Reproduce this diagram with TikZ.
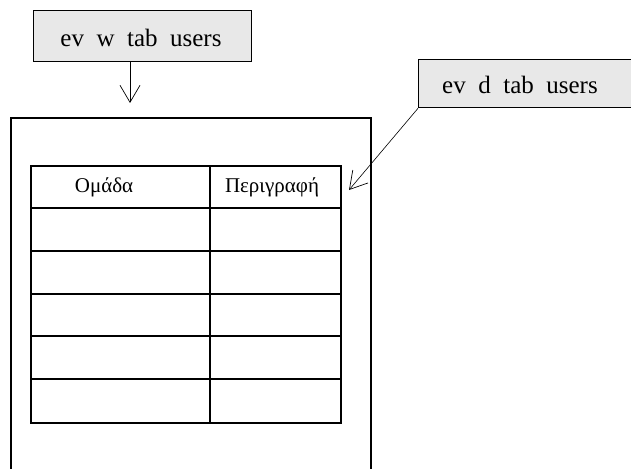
\documentclass[tikz,border=0pt]{standalone}
\usepackage{fontspec}
\setmainfont{Liberation Serif}
\usetikzlibrary{arrows.meta}
\begin{document}
\begin{tikzpicture}[x=1pt,y=-1pt,
  lblbox/.style={draw, line width=1.3pt, fill=black!9, inner sep=0pt, anchor=north west},
  lbltext/.style={font=\fontsize{25}{28}\selectfont, inner sep=0pt},
  hdr/.style={font=\fontsize{21}{24}\selectfont, inner sep=0pt},
  framebox/.style={draw, line width=1.5pt, inner sep=0pt, anchor=north west},
  grid/.style={line width=2pt},
  arr/.style={line width=0.6pt, -{Straight Barb[length=17pt,width=20pt,line width=0.7pt]}}
]
\useasboundingbox (0,0) rectangle (631,468);
% top label
\node[lblbox, minimum width=218pt, minimum height=51pt] (wbox) at (33,10) {};
\node[lbltext] (wtext) at (141,38) {ev\ \ w\ \ tab\ \ users};
% right label
\node[lblbox, minimum width=230pt, minimum height=48pt] (dbox) at (418,59) {};
\node[lbltext] (dtext) at (520,85) {ev\ \ d\ \ tab\ \ users};
% frame
\node[framebox, minimum width=360pt, minimum height=370pt] (frame) at (10,117) {};
% table
\node[draw, grid, inner sep=0pt, anchor=north west, minimum width=310pt, minimum height=257pt] (table) at (30,165) {};
\foreach \yy in {208,251,294,336,379} \draw[grid] (table.west |- 0,\yy) -- (table.east |- 0,\yy);
\draw[grid] (table.north -| 210,0) -- (table.south -| 210,0);
\node[hdr] (h1) at (104,187) {Ομάδα};
\node[hdr] (h2) at (272,187) {Περιγραφή};
% arrows
\coordinate (wend) at (130,103);
\coordinate (dend) at (349,190);
\draw[arr] (wbox.south -| wend) -- (wend);
\draw[arr] (dbox.south west) -- (dend);
\end{tikzpicture}
\end{document}
